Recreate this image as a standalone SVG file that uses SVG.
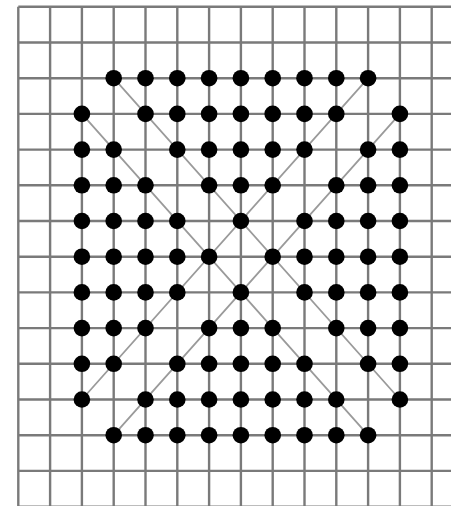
<svg xmlns="http://www.w3.org/2000/svg" xmlns:xlink="http://www.w3.org/1999/xlink" width="451" height="506" viewBox="0 0 451 506">
<style>
.g{stroke:#7a7a7a;stroke-width:2.4;fill:none}
.halo{stroke:#ffffff;stroke-width:5;stroke-linecap:round}
.diag{stroke:#9a9a9a;stroke-width:1.8;stroke-linecap:round}
.dot{fill:#000}
</style>
<defs><circle id="d" r="8.3" class="dot"/></defs>
<rect width="451" height="506" fill="#fff"/>
<g id="grid" class="g">
<path d="M18.3 6.8V506M50.1 6.8V506M81.9 6.8V506M113.7 6.8V506M145.5 6.8V506M177.3 6.8V506M209.1 6.8V506M240.9 6.8V506M272.7 6.8V506M304.5 6.8V506M336.3 6.8V506M368.1 6.8V506M399.9 6.8V506M431.7 6.8V506"/>
<path d="M18.3 6.8H451M18.3 42.5H451M18.3 78.2H451M18.3 113.9H451M18.3 149.6H451M18.3 185.3H451M18.3 221H451M18.3 256.7H451M18.3 292.4H451M18.3 328.1H451M18.3 363.8H451M18.3 399.5H451M18.3 435.2H451M18.3 470.9H451M18.3 506.6H451"/>
</g>
<g id="connectors">
<g class="halo">
<line x1="113.7" y1="78.2" x2="399.9" y2="399.5"/>
<line x1="81.9" y1="113.9" x2="368.1" y2="435.2"/>
<line x1="368.1" y1="78.2" x2="81.9" y2="399.5"/>
<line x1="399.9" y1="113.9" x2="113.7" y2="435.2"/>
</g>
<g class="diag">
<line x1="113.7" y1="78.2" x2="399.9" y2="399.5"/>
<line x1="81.9" y1="113.9" x2="368.1" y2="435.2"/>
<line x1="368.1" y1="78.2" x2="81.9" y2="399.5"/>
<line x1="399.9" y1="113.9" x2="113.7" y2="435.2"/>
</g>
</g>
<g id="dots">
<g id="row2"><use href="#d" x="113.7" y="78.2"/><use href="#d" x="145.5" y="78.2"/><use href="#d" x="177.3" y="78.2"/><use href="#d" x="209.1" y="78.2"/><use href="#d" x="240.9" y="78.2"/><use href="#d" x="272.7" y="78.2"/><use href="#d" x="304.5" y="78.2"/><use href="#d" x="336.3" y="78.2"/><use href="#d" x="368.1" y="78.2"/></g>
<g id="row3"><use href="#d" x="81.9" y="113.9"/><use href="#d" x="145.5" y="113.9"/><use href="#d" x="177.3" y="113.9"/><use href="#d" x="209.1" y="113.9"/><use href="#d" x="240.9" y="113.9"/><use href="#d" x="272.7" y="113.9"/><use href="#d" x="304.5" y="113.9"/><use href="#d" x="336.3" y="113.9"/><use href="#d" x="399.9" y="113.9"/></g>
<g id="row4"><use href="#d" x="81.9" y="149.6"/><use href="#d" x="113.7" y="149.6"/><use href="#d" x="177.3" y="149.6"/><use href="#d" x="209.1" y="149.6"/><use href="#d" x="240.9" y="149.6"/><use href="#d" x="272.7" y="149.6"/><use href="#d" x="304.5" y="149.6"/><use href="#d" x="368.1" y="149.6"/><use href="#d" x="399.9" y="149.6"/></g>
<g id="row5"><use href="#d" x="81.9" y="185.3"/><use href="#d" x="113.7" y="185.3"/><use href="#d" x="145.5" y="185.3"/><use href="#d" x="209.1" y="185.3"/><use href="#d" x="240.9" y="185.3"/><use href="#d" x="272.7" y="185.3"/><use href="#d" x="336.3" y="185.3"/><use href="#d" x="368.1" y="185.3"/><use href="#d" x="399.9" y="185.3"/></g>
<g id="row6"><use href="#d" x="81.9" y="221"/><use href="#d" x="113.7" y="221"/><use href="#d" x="145.5" y="221"/><use href="#d" x="177.3" y="221"/><use href="#d" x="240.9" y="221"/><use href="#d" x="304.5" y="221"/><use href="#d" x="336.3" y="221"/><use href="#d" x="368.1" y="221"/><use href="#d" x="399.9" y="221"/></g>
<g id="row7"><use href="#d" x="81.9" y="256.7"/><use href="#d" x="113.7" y="256.7"/><use href="#d" x="145.5" y="256.7"/><use href="#d" x="177.3" y="256.7"/><use href="#d" x="209.1" y="256.7"/><use href="#d" x="272.7" y="256.7"/><use href="#d" x="304.5" y="256.7"/><use href="#d" x="336.3" y="256.7"/><use href="#d" x="368.1" y="256.7"/><use href="#d" x="399.9" y="256.7"/></g>
<g id="row8"><use href="#d" x="81.9" y="292.4"/><use href="#d" x="113.7" y="292.4"/><use href="#d" x="145.5" y="292.4"/><use href="#d" x="177.3" y="292.4"/><use href="#d" x="240.9" y="292.4"/><use href="#d" x="304.5" y="292.4"/><use href="#d" x="336.3" y="292.4"/><use href="#d" x="368.1" y="292.4"/><use href="#d" x="399.9" y="292.4"/></g>
<g id="row9"><use href="#d" x="81.9" y="328.1"/><use href="#d" x="113.7" y="328.1"/><use href="#d" x="145.5" y="328.1"/><use href="#d" x="209.1" y="328.1"/><use href="#d" x="240.9" y="328.1"/><use href="#d" x="272.7" y="328.1"/><use href="#d" x="336.3" y="328.1"/><use href="#d" x="368.1" y="328.1"/><use href="#d" x="399.9" y="328.1"/></g>
<g id="row10"><use href="#d" x="81.9" y="363.8"/><use href="#d" x="113.7" y="363.8"/><use href="#d" x="177.3" y="363.8"/><use href="#d" x="209.1" y="363.8"/><use href="#d" x="240.9" y="363.8"/><use href="#d" x="272.7" y="363.8"/><use href="#d" x="304.5" y="363.8"/><use href="#d" x="368.1" y="363.8"/><use href="#d" x="399.9" y="363.8"/></g>
<g id="row11"><use href="#d" x="81.9" y="399.5"/><use href="#d" x="145.5" y="399.5"/><use href="#d" x="177.3" y="399.5"/><use href="#d" x="209.1" y="399.5"/><use href="#d" x="240.9" y="399.5"/><use href="#d" x="272.7" y="399.5"/><use href="#d" x="304.5" y="399.5"/><use href="#d" x="336.3" y="399.5"/><use href="#d" x="399.9" y="399.5"/></g>
<g id="row12"><use href="#d" x="113.7" y="435.2"/><use href="#d" x="145.5" y="435.2"/><use href="#d" x="177.3" y="435.2"/><use href="#d" x="209.1" y="435.2"/><use href="#d" x="240.9" y="435.2"/><use href="#d" x="272.7" y="435.2"/><use href="#d" x="304.5" y="435.2"/><use href="#d" x="336.3" y="435.2"/><use href="#d" x="368.1" y="435.2"/></g>
</g>
</svg>
